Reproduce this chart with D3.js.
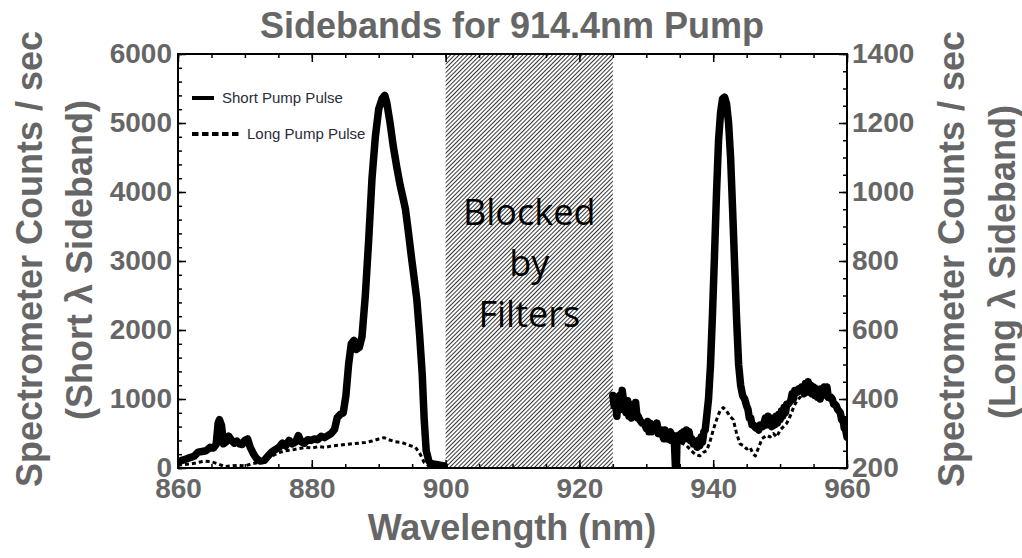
<!DOCTYPE html>
<html><head><meta charset="utf-8">
<script src="https://cdn.jsdelivr.net/npm/d3@7"></script>
<style>
html,body{margin:0;padding:0;background:#fff;}
svg{display:block;}
</style></head>
<body>
<svg id="c" width="1022" height="558"></svg>
<script>
// ---------- data ----------
const title = "Sidebands for 914.4nm Pump";
const xTicks = [860, 880, 900, 920, 940, 960];
const leftTicks = [0, 1000, 2000, 3000, 4000, 5000, 6000];
const rightTicks = [200, 400, 600, 800, 1000, 1200, 1400];
const blockedRange = [900, 925];
const blockedLines = ["Blocked", "by", "Filters"];
const seriesNames = ["Short Pump Pulse", "Long Pump Pulse"];

// Short-wavelength sideband (left axis), short pump pulse
const shortSideShortWl = [860.0,860.6,861.2,861.8,862.4,863.0,863.6,864.2,864.8,865.3,865.7,866.0,866.2,866.5,866.8,867.2,867.6,868.0,868.4,868.8,869.2,869.6,870.0,870.4,870.8,871.3,871.8,872.3,872.9,873.4,874.0,874.6,875.1,875.6,876.1,876.6,877.1,877.6,878.0,878.4,878.9,879.4,879.9,880.4,880.9,881.4,881.9,882.4,882.9,883.4,883.8,884.3,884.7,885.1,885.5,885.9,886.3,886.7,887.1,887.5,888.0,888.5,889.0,889.5,890.0,890.5,890.9,891.2,891.7,892.2,892.7,893.2,893.6,894.0,894.4,894.9,895.3,895.7,896.1,896.5,896.8,897.1,897.5,898.0,898.6,899.2,899.8];
const shortSideShortCounts = [90,110,130,150,170,230,240,250,300,290,340,650,700,620,350,380,460,400,360,390,350,340,400,420,300,200,130,100,110,170,230,270,300,360,320,400,350,380,470,380,360,410,400,420,410,460,440,470,500,560,730,780,800,1050,1500,1800,1850,1720,1750,1900,2500,3300,4200,4800,5200,5350,5400,5300,5000,4650,4360,4100,3930,3750,3450,3050,2750,2440,1950,1370,700,250,100,60,50,40,30];

// Short-wavelength sideband (left axis), long pump pulse
const shortSideLongWl = [860,861,862,863,864,865,866,867,868,869,870,871,872,873,874,875,876,877,878,879,880,881,882,883,884,885,886,887,888,889,890,890.8,891.5,892.5,893.5,894.5,895.5,896.2,896.8,897.5,898.5];
const shortSideLongCounts = [40,50,60,80,100,90,60,20,30,40,30,60,80,130,170,220,250,260,280,300,290,310,300,320,330,340,350,360,370,390,420,440,410,380,370,330,300,200,80,30,20];

// Long-wavelength sideband (right axis), short pump pulse
const longSideShortWl = [925.0,925.2,925.4,925.6,925.8,926.0,926.2,926.4,926.6,926.8,927.0,927.2,927.4,927.6,927.8,928.0,928.2,928.4,928.6,928.8,929.0,929.2,929.4,929.6,929.8,930.0,930.2,930.4,930.6,930.8,931.0,931.2,931.4,931.6,931.8,932.0,932.2,932.4,932.6,932.8,933.0,933.2,933.4,933.6,933.8,934.0,934.2,934.35,934.5,934.6,934.8,935.0,935.2,935.4,935.6,935.8,936.0,936.2,936.4,936.6,936.8,937.0,937.2,937.4,937.6,937.8,938.0,938.2,938.4,938.6,938.8,939.0,939.3,939.6,939.9,940.2,940.5,940.8,941.1,941.4,941.7,942.0,942.3,942.6,942.9,943.2,943.5,943.8,944.1,944.4,944.7,945.0,945.2,945.4,945.6,945.8,946.0,946.2,946.4,946.6,946.8,947.0,947.2,947.4,947.6,947.8,948.0,948.2,948.4,948.6,948.8,949.0,949.2,949.4,949.6,949.8,950.0,950.2,950.4,950.6,950.8,951.0,951.2,951.4,951.6,951.8,952.0,952.2,952.4,952.6,952.8,953.0,953.2,953.4,953.6,953.8,954.0,954.2,954.4,954.6,954.8,955.0,955.2,955.4,955.6,955.8,956.0,956.2,956.4,956.6,956.8,957.0,957.2,957.4,957.6,957.8,958.0,958.2,958.4,958.6,958.8,959.0,959.2,959.4,959.6,959.8,960.0];
const longSideShortCounts = [410,380,395,350,405,410,370,425,395,390,360,395,350,380,345,385,355,390,350,350,340,335,330,330,325,315,335,305,330,305,325,325,310,330,300,305,310,295,285,310,285,285,290,305,280,295,275,205,205,290,295,295,300,280,305,285,310,285,305,280,285,270,275,275,260,280,265,290,275,305,310,345,400,500,650,820,1000,1150,1230,1270,1275,1255,1200,1100,950,790,630,500,440,410,400,380,370,345,345,325,325,320,315,315,310,325,325,320,330,345,325,350,325,345,320,340,325,350,330,355,340,365,350,375,360,385,385,390,395,415,400,425,425,420,430,430,435,435,415,445,425,450,420,440,415,435,410,430,405,425,400,430,410,435,415,435,405,405,405,400,385,385,380,370,365,360,340,340,315,310,290];

// Long-wavelength sideband (right axis), long pump pulse
const longSideLongWl = [925,926,927,928,929,930,931,932,933,934,935,936,937,937.5,938,938.5,939,939.5,940,940.5,941,941.5,942,942.5,943,943.5,944,944.5,945,945.5,946,946.3,946.8,947.3,948,948.5,949,949.5,950,950.5,951,951.5,952,952.5,953,953.5,954,954.5,955,955.5,956,956.5,957,957.5,958,958.5,959,959.5,960];
const longSideLongCounts = [395,370,355,350,330,310,305,290,280,270,275,265,245,238,235,245,250,275,310,340,365,375,365,350,340,300,270,265,255,260,240,235,260,285,295,290,300,290,310,320,330,350,375,395,405,420,410,425,415,420,405,410,400,395,380,365,355,330,300];

// ---------- chart ----------
const plot = {left: 178, right: 847, top: 54, bottom: 468};
const grey = "#666666";
const tickFont = "'Liberation Sans', Arial, sans-serif";

const svg = d3.select("#c");
const x = d3.scaleLinear().domain([860, 960]).range([plot.left, plot.right]);
const yL = d3.scaleLinear().domain([0, 6000]).range([plot.bottom, plot.top]);
const yR = d3.scaleLinear().domain([200, 1400]).range([plot.bottom, plot.top]);

// hatch pattern
const defs = svg.append("defs");
const pat = defs.append("pattern").attr("id", "hatch")
  .attr("patternUnits", "userSpaceOnUse").attr("width", 3).attr("height", 3)
  .attr("patternTransform", "rotate(45)");
pat.append("rect").attr("width", 3).attr("height", 3).attr("fill", "#fff");
pat.append("line").attr("x1", 0).attr("y1", 0).attr("x2", 0).attr("y2", 3)
  .attr("stroke", "#000").attr("stroke-width", 1.6);
defs.append("clipPath").attr("id", "clip").append("rect")
  .attr("x", plot.left).attr("y", plot.top)
  .attr("width", plot.right - plot.left).attr("height", plot.bottom - plot.top);

svg.append("rect").attr("x", x(blockedRange[0])).attr("y", plot.top)
  .attr("width", x(blockedRange[1]) - x(blockedRange[0]))
  .attr("height", plot.bottom - plot.top).attr("fill", "url(#hatch)");

const bx = (x(blockedRange[0]) + x(blockedRange[1])) / 2;
svg.append("g").selectAll("text").data(blockedLines).join("text")
  .attr("x", bx).attr("y", (d, i) => 225 + i * 51)
  .attr("text-anchor", "middle")
  .attr("font-family", "'Open Sans', 'Noto Sans', sans-serif")
  .attr("font-size", 36).attr("fill", "#000").text(d => d);

// lines
const g = svg.append("g").attr("clip-path", "url(#clip)");
function drawLine(wl, vals, yScale, dashed) {
  const pts = wl.map((w, i) => [w, vals[i]]);
  const line = d3.line().x(d => x(d[0])).y(d => yScale(d[1]));
  const p = g.append("path").datum(pts).attr("d", line)
    .attr("fill", "none").attr("stroke", "#000")
    .attr("stroke-linejoin", "round").attr("stroke-linecap", dashed ? "butt" : "round");
  if (dashed) p.attr("stroke-width", 3).attr("stroke-dasharray", "4,3");
  else p.attr("stroke-width", 7.5);
}
drawLine(shortSideLongWl, shortSideLongCounts, yL, true);
drawLine(longSideLongWl, longSideLongCounts, yR, true);
drawLine(shortSideShortWl, shortSideShortCounts, yL, false);
drawLine(longSideShortWl, longSideShortCounts, yR, false);

// axes
function styleAxis(sel) {
  sel.select(".domain").remove();
  sel.selectAll(".tick line").attr("stroke", "#000").attr("stroke-width", 1.5);
  sel.selectAll("text").attr("font-family", tickFont).attr("font-weight", "bold")
    .attr("font-size", 28).attr("fill", grey);
}
const minorX = d3.range(860, 961, 5);
svg.append("g").attr("transform", `translate(0,${plot.bottom})`)
  .call(d3.axisBottom(x).tickValues(minorX).tickSize(-4).tickFormat("")).call(styleAxis);
svg.append("g").attr("transform", `translate(0,${plot.top})`)
  .call(d3.axisTop(x).tickValues(minorX).tickSize(-4).tickFormat("")).call(styleAxis);
svg.append("g").attr("transform", `translate(0,${plot.bottom})`)
  .call(d3.axisBottom(x).tickValues(xTicks).tickSize(-8).tickPadding(10).tickFormat(d3.format("d"))).call(styleAxis);
svg.append("g").attr("transform", `translate(0,${plot.top})`)
  .call(d3.axisTop(x).tickValues(xTicks).tickSize(-8).tickFormat("")).call(styleAxis);

svg.append("g").attr("transform", `translate(${plot.left},0)`)
  .call(d3.axisLeft(yL).tickValues(d3.range(0, 6001, 200)).tickSize(-4).tickFormat("")).call(styleAxis);
svg.append("g").attr("transform", `translate(${plot.left},0)`)
  .call(d3.axisLeft(yL).tickValues(leftTicks).tickSize(-8).tickPadding(6).tickFormat(d3.format("d"))).call(styleAxis);

svg.append("g").attr("transform", `translate(${plot.right},0)`)
  .call(d3.axisRight(yR).tickValues(d3.range(200, 1401, 50)).tickSize(-4).tickFormat("")).call(styleAxis);
svg.append("g").attr("transform", `translate(${plot.right},0)`)
  .call(d3.axisRight(yR).tickValues(rightTicks).tickSize(-8).tickPadding(5).tickFormat(d3.format("d"))).call(styleAxis);

// frame
svg.append("rect").attr("x", plot.left).attr("y", plot.top)
  .attr("width", plot.right - plot.left).attr("height", plot.bottom - plot.top)
  .attr("fill", "none").attr("stroke", "#000").attr("stroke-width", 2);

// legend
const leg = svg.append("g");
leg.append("line").attr("x1", 192).attr("x2", 214).attr("y1", 98).attr("y2", 98)
  .attr("stroke", "#000").attr("stroke-width", 4);
leg.append("line").attr("x1", 192).attr("x2", 240).attr("y1", 134).attr("y2", 134)
  .attr("stroke", "#000").attr("stroke-width", 4).attr("stroke-dasharray", "6.5,3.5");
leg.append("text").attr("x", 222).attr("y", 103).text(seriesNames[0]);
leg.append("text").attr("x", 247).attr("y", 139).text(seriesNames[1]);
leg.selectAll("text").attr("font-family", tickFont).attr("font-size", 15).attr("fill", "#2b2b3a");

// titles
const tfont = "'Liberation Sans', Arial, sans-serif";
svg.append("text").attr("x", 512).attr("y", 38).attr("text-anchor", "middle")
  .attr("font-family", tfont).attr("font-weight", "bold").attr("font-size", 36)
  .attr("fill", grey).text(title);
svg.append("text").attr("x", 512).attr("y", 540).attr("text-anchor", "middle")
  .attr("font-family", tfont).attr("font-weight", "bold").attr("font-size", 36)
  .attr("fill", grey).text("Wavelength (nm)");
function yTitle(xb, yc, txt) {
  svg.append("text").attr("transform", `translate(${xb},${yc}) rotate(-90)`)
    .attr("text-anchor", "middle").attr("font-family", tfont).attr("font-weight", "bold")
    .attr("font-size", 36).attr("fill", grey).text(txt);
}
yTitle(42, 259, "Spectrometer Counts / sec");
yTitle(92, 260, "(Short λ Sideband)");
yTitle(964, 259, "Spectrometer Counts / sec");
yTitle(1015, 262, "(Long λ Sideband)");
</script>
</body></html>
